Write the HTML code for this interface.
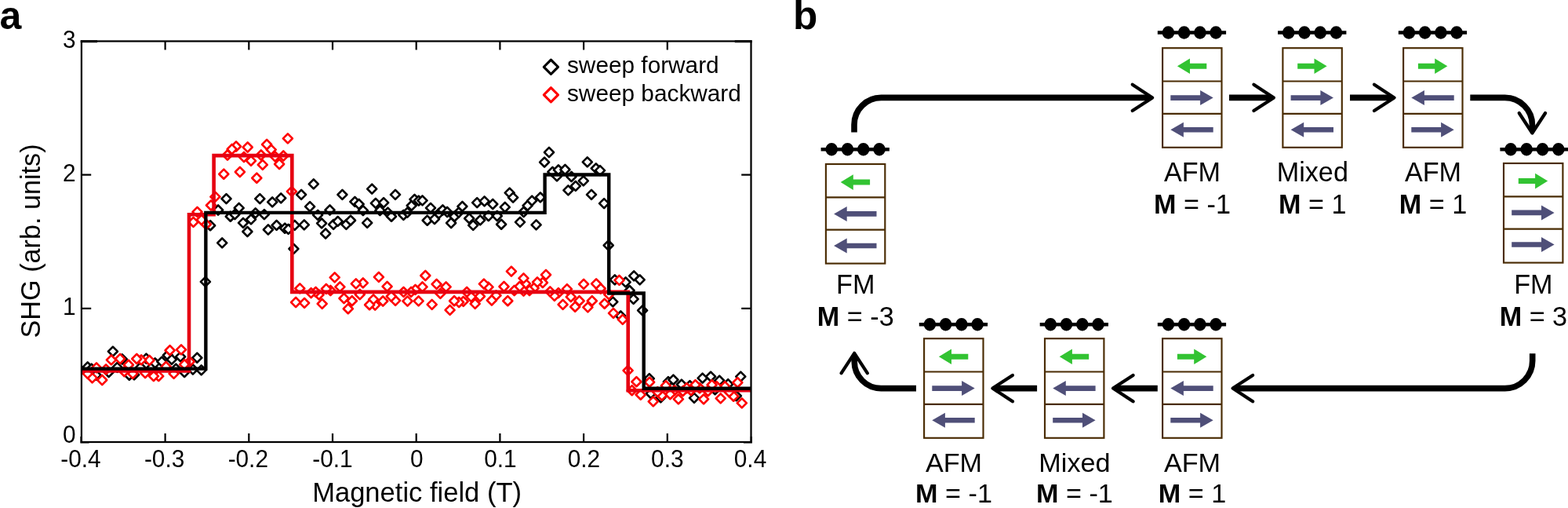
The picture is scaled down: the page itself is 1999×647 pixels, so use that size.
<!DOCTYPE html>
<html lang="en">
<head>
<meta charset="utf-8">
<title>SHG vs magnetic field</title>
<style>
html,body{margin:0;padding:0;background:#fff;}
body{width:1999px;height:647px;overflow:hidden;position:relative;}
svg{position:absolute;left:0;top:0;display:block;}
text{font-family:"Liberation Sans", sans-serif;fill:#000;font-kerning:none;}
</style>
</head>
<body>
<svg width="1999" height="647" viewBox="0 0 1999 647">
<rect x="0" y="0" width="1999" height="647" fill="#fff"/>

<g id="panel-a">
<text transform="translate(-0.50,36.90) scale(0.99,1.0)" text-anchor="start" style="font-size:50.5px;font-weight:bold;">a</text>
<g id="sweep-forward-points" fill="#fff" stroke="#000" stroke-width="2.6" stroke-linejoin="round">
<rect x="107.46" y="463.16" width="8.49" height="8.49" transform="rotate(45 111.7 467.4)"/>
<rect x="112.46" y="465.36" width="8.49" height="8.49" transform="rotate(45 116.7 469.6)"/>
<rect x="118.26" y="473.46" width="8.49" height="8.49" transform="rotate(45 122.5 477.7)"/>
<rect x="134.46" y="469.86" width="8.49" height="8.49" transform="rotate(45 138.7 474.1)"/>
<rect x="139.66" y="443.36" width="8.49" height="8.49" transform="rotate(45 143.9 447.6)"/>
<rect x="145.26" y="463.56" width="8.49" height="8.49" transform="rotate(45 149.5 467.8)"/>
<rect x="151.56" y="453.26" width="8.49" height="8.49" transform="rotate(45 155.8 457.5)"/>
<rect x="160.56" y="473.46" width="8.49" height="8.49" transform="rotate(45 164.8 477.7)"/>
<rect x="166.86" y="473.06" width="8.49" height="8.49" transform="rotate(45 171.1 477.3)"/>
<rect x="174.96" y="463.56" width="8.49" height="8.49" transform="rotate(45 179.2 467.8)"/>
<rect x="182.16" y="452.36" width="8.49" height="8.49" transform="rotate(45 186.4 456.6)"/>
<rect x="189.36" y="463.56" width="8.49" height="8.49" transform="rotate(45 193.6 467.8)"/>
<rect x="193.46" y="458.16" width="8.49" height="8.49" transform="rotate(45 197.7 462.4)"/>
<rect x="202.06" y="456.36" width="8.49" height="8.49" transform="rotate(45 206.3 460.6)"/>
<rect x="209.66" y="448.26" width="8.49" height="8.49" transform="rotate(45 213.9 452.5)"/>
<rect x="214.66" y="453.66" width="8.49" height="8.49" transform="rotate(45 218.9 457.9)"/>
<rect x="220.06" y="465.36" width="8.49" height="8.49" transform="rotate(45 224.3 469.6)"/>
<rect x="225.86" y="450.06" width="8.49" height="8.49" transform="rotate(45 230.1 454.3)"/>
<rect x="230.86" y="469.86" width="8.49" height="8.49" transform="rotate(45 235.1 474.1)"/>
<rect x="241.66" y="466.26" width="8.49" height="8.49" transform="rotate(45 245.9 470.5)"/>
<rect x="247.06" y="451.46" width="8.49" height="8.49" transform="rotate(45 251.3 455.7)"/>
<rect x="252.46" y="467.16" width="8.49" height="8.49" transform="rotate(45 256.7 471.4)"/>
<rect x="257.66" y="354.56" width="8.49" height="8.49" transform="rotate(45 261.9 358.8)"/>
<rect x="263.86" y="282.96" width="8.49" height="8.49" transform="rotate(45 268.1 287.2)"/>
<rect x="273.86" y="263.26" width="8.49" height="8.49" transform="rotate(45 278.1 267.5)"/>
<rect x="278.96" y="305.16" width="8.49" height="8.49" transform="rotate(45 283.2 309.4)"/>
<rect x="284.26" y="248.86" width="8.49" height="8.49" transform="rotate(45 288.5 253.1)"/>
<rect x="289.56" y="271.46" width="8.49" height="8.49" transform="rotate(45 293.8 275.7)"/>
<rect x="295.16" y="268.86" width="8.49" height="8.49" transform="rotate(45 299.4 273.1)"/>
<rect x="300.46" y="260.56" width="8.49" height="8.49" transform="rotate(45 304.7 264.8)"/>
<rect x="305.76" y="279.56" width="8.49" height="8.49" transform="rotate(45 310.0 283.8)"/>
<rect x="311.16" y="290.76" width="8.49" height="8.49" transform="rotate(45 315.4 295.0)"/>
<rect x="315.76" y="275.16" width="8.49" height="8.49" transform="rotate(45 320.0 279.4)"/>
<rect x="321.46" y="267.06" width="8.49" height="8.49" transform="rotate(45 325.7 271.3)"/>
<rect x="327.06" y="248.86" width="8.49" height="8.49" transform="rotate(45 331.3 253.1)"/>
<rect x="332.66" y="268.86" width="8.49" height="8.49" transform="rotate(45 336.9 273.1)"/>
<rect x="337.66" y="288.26" width="8.49" height="8.49" transform="rotate(45 341.9 292.5)"/>
<rect x="342.96" y="253.06" width="8.49" height="8.49" transform="rotate(45 347.2 257.3)"/>
<rect x="348.36" y="282.66" width="8.49" height="8.49" transform="rotate(45 352.6 286.9)"/>
<rect x="353.96" y="248.06" width="8.49" height="8.49" transform="rotate(45 358.2 252.3)"/>
<rect x="358.96" y="286.46" width="8.49" height="8.49" transform="rotate(45 363.2 290.7)"/>
<rect x="363.36" y="287.66" width="8.49" height="8.49" transform="rotate(45 367.6 291.9)"/>
<rect x="370.16" y="312.66" width="8.49" height="8.49" transform="rotate(45 374.4 316.9)"/>
<rect x="371.46" y="282.66" width="8.49" height="8.49" transform="rotate(45 375.7 286.9)"/>
<rect x="379.86" y="243.66" width="8.49" height="8.49" transform="rotate(45 384.1 247.9)"/>
<rect x="383.56" y="282.06" width="8.49" height="8.49" transform="rotate(45 387.8 286.3)"/>
<rect x="390.86" y="258.86" width="8.49" height="8.49" transform="rotate(45 395.1 263.1)"/>
<rect x="395.56" y="230.16" width="8.49" height="8.49" transform="rotate(45 399.8 234.4)"/>
<rect x="400.86" y="269.56" width="8.49" height="8.49" transform="rotate(45 405.1 273.8)"/>
<rect x="405.86" y="280.16" width="8.49" height="8.49" transform="rotate(45 410.1 284.4)"/>
<rect x="410.86" y="293.26" width="8.49" height="8.49" transform="rotate(45 415.1 297.5)"/>
<rect x="416.26" y="263.26" width="8.49" height="8.49" transform="rotate(45 420.5 267.5)"/>
<rect x="420.86" y="281.66" width="8.49" height="8.49" transform="rotate(45 425.1 285.9)"/>
<rect x="426.46" y="277.66" width="8.49" height="8.49" transform="rotate(45 430.7 281.9)"/>
<rect x="432.16" y="243.66" width="8.49" height="8.49" transform="rotate(45 436.4 247.9)"/>
<rect x="437.16" y="281.66" width="8.49" height="8.49" transform="rotate(45 441.4 285.9)"/>
<rect x="442.76" y="276.46" width="8.49" height="8.49" transform="rotate(45 447.0 280.7)"/>
<rect x="448.16" y="252.66" width="8.49" height="8.49" transform="rotate(45 452.4 256.9)"/>
<rect x="453.36" y="255.76" width="8.49" height="8.49" transform="rotate(45 457.6 260.0)"/>
<rect x="458.66" y="263.86" width="8.49" height="8.49" transform="rotate(45 462.9 268.1)"/>
<rect x="463.96" y="279.56" width="8.49" height="8.49" transform="rotate(45 468.2 283.8)"/>
<rect x="469.96" y="236.36" width="8.49" height="8.49" transform="rotate(45 474.2 240.6)"/>
<rect x="474.66" y="254.56" width="8.49" height="8.49" transform="rotate(45 478.9 258.8)"/>
<rect x="480.16" y="263.86" width="8.49" height="8.49" transform="rotate(45 484.4 268.1)"/>
<rect x="484.86" y="253.86" width="8.49" height="8.49" transform="rotate(45 489.1 258.1)"/>
<rect x="490.16" y="266.36" width="8.49" height="8.49" transform="rotate(45 494.4 270.6)"/>
<rect x="494.76" y="271.46" width="8.49" height="8.49" transform="rotate(45 499.0 275.7)"/>
<rect x="499.76" y="243.66" width="8.49" height="8.49" transform="rotate(45 504.0 247.9)"/>
<rect x="510.16" y="269.56" width="8.49" height="8.49" transform="rotate(45 514.4 273.8)"/>
<rect x="515.16" y="266.36" width="8.49" height="8.49" transform="rotate(45 519.4 270.6)"/>
<rect x="520.46" y="257.66" width="8.49" height="8.49" transform="rotate(45 524.7 261.9)"/>
<rect x="524.26" y="249.56" width="8.49" height="8.49" transform="rotate(45 528.5 253.8)"/>
<rect x="529.56" y="251.36" width="8.49" height="8.49" transform="rotate(45 533.8 255.6)"/>
<rect x="534.26" y="251.16" width="8.49" height="8.49" transform="rotate(45 538.5 255.4)"/>
<rect x="540.46" y="276.46" width="8.49" height="8.49" transform="rotate(45 544.7 280.7)"/>
<rect x="544.76" y="260.56" width="8.49" height="8.49" transform="rotate(45 549.0 264.8)"/>
<rect x="549.76" y="274.76" width="8.49" height="8.49" transform="rotate(45 554.0 279.0)"/>
<rect x="555.16" y="267.66" width="8.49" height="8.49" transform="rotate(45 559.4 271.9)"/>
<rect x="560.16" y="263.26" width="8.49" height="8.49" transform="rotate(45 564.4 267.5)"/>
<rect x="565.86" y="265.76" width="8.49" height="8.49" transform="rotate(45 570.1 270.0)"/>
<rect x="570.86" y="279.76" width="8.49" height="8.49" transform="rotate(45 575.1 284.0)"/>
<rect x="575.16" y="271.46" width="8.49" height="8.49" transform="rotate(45 579.4 275.7)"/>
<rect x="580.56" y="266.36" width="8.49" height="8.49" transform="rotate(45 584.8 270.6)"/>
<rect x="585.16" y="258.66" width="8.49" height="8.49" transform="rotate(45 589.4 262.9)"/>
<rect x="593.96" y="273.96" width="8.49" height="8.49" transform="rotate(45 598.2 278.2)"/>
<rect x="598.96" y="282.66" width="8.49" height="8.49" transform="rotate(45 603.2 286.9)"/>
<rect x="603.96" y="253.86" width="8.49" height="8.49" transform="rotate(45 608.2 258.1)"/>
<rect x="607.96" y="276.16" width="8.49" height="8.49" transform="rotate(45 612.2 280.4)"/>
<rect x="613.36" y="252.06" width="8.49" height="8.49" transform="rotate(45 617.6 256.3)"/>
<rect x="618.56" y="270.76" width="8.49" height="8.49" transform="rotate(45 622.8 275.0)"/>
<rect x="623.96" y="255.76" width="8.49" height="8.49" transform="rotate(45 628.2 260.0)"/>
<rect x="629.56" y="270.76" width="8.49" height="8.49" transform="rotate(45 633.8 275.0)"/>
<rect x="634.86" y="281.46" width="8.49" height="8.49" transform="rotate(45 639.1 285.7)"/>
<rect x="639.56" y="259.56" width="8.49" height="8.49" transform="rotate(45 643.8 263.8)"/>
<rect x="645.46" y="241.36" width="8.49" height="8.49" transform="rotate(45 649.7 245.6)"/>
<rect x="649.86" y="247.36" width="8.49" height="8.49" transform="rotate(45 654.1 251.6)"/>
<rect x="658.76" y="278.66" width="8.49" height="8.49" transform="rotate(45 663.0 282.9)"/>
<rect x="663.36" y="265.76" width="8.49" height="8.49" transform="rotate(45 667.6 270.0)"/>
<rect x="668.36" y="257.66" width="8.49" height="8.49" transform="rotate(45 672.6 261.9)"/>
<rect x="673.96" y="251.36" width="8.49" height="8.49" transform="rotate(45 678.2 255.6)"/>
<rect x="679.36" y="282.06" width="8.49" height="8.49" transform="rotate(45 683.6 286.3)"/>
<rect x="684.66" y="247.06" width="8.49" height="8.49" transform="rotate(45 688.9 251.3)"/>
<rect x="689.86" y="202.36" width="8.49" height="8.49" transform="rotate(45 694.1 206.6)"/>
<rect x="695.76" y="189.76" width="8.49" height="8.49" transform="rotate(45 700.0 194.0)"/>
<rect x="700.16" y="214.56" width="8.49" height="8.49" transform="rotate(45 704.4 218.8)"/>
<rect x="705.76" y="220.16" width="8.49" height="8.49" transform="rotate(45 710.0 224.4)"/>
<rect x="707.66" y="212.06" width="8.49" height="8.49" transform="rotate(45 711.9 216.3)"/>
<rect x="716.16" y="211.76" width="8.49" height="8.49" transform="rotate(45 720.4 216.0)"/>
<rect x="720.16" y="238.06" width="8.49" height="8.49" transform="rotate(45 724.4 242.3)"/>
<rect x="724.26" y="220.76" width="8.49" height="8.49" transform="rotate(45 728.5 225.0)"/>
<rect x="729.56" y="232.66" width="8.49" height="8.49" transform="rotate(45 733.8 236.9)"/>
<rect x="739.56" y="226.06" width="8.49" height="8.49" transform="rotate(45 743.8 230.3)"/>
<rect x="744.56" y="202.06" width="8.49" height="8.49" transform="rotate(45 748.8 206.3)"/>
<rect x="749.76" y="243.56" width="8.49" height="8.49" transform="rotate(45 754.0 247.8)"/>
<rect x="755.56" y="210.16" width="8.49" height="8.49" transform="rotate(45 759.8 214.4)"/>
<rect x="760.76" y="212.86" width="8.49" height="8.49" transform="rotate(45 765.0 217.1)"/>
<rect x="765.86" y="254.86" width="8.49" height="8.49" transform="rotate(45 770.1 259.1)"/>
<rect x="771.46" y="308.26" width="8.49" height="8.49" transform="rotate(45 775.7 312.5)"/>
<rect x="777.06" y="380.16" width="8.49" height="8.49" transform="rotate(45 781.3 384.4)"/>
<rect x="779.56" y="352.06" width="8.49" height="8.49" transform="rotate(45 783.8 356.3)"/>
<rect x="787.06" y="398.26" width="8.49" height="8.49" transform="rotate(45 791.3 402.5)"/>
<rect x="793.36" y="355.16" width="8.49" height="8.49" transform="rotate(45 797.6 359.4)"/>
<rect x="798.36" y="365.76" width="8.49" height="8.49" transform="rotate(45 802.6 370.0)"/>
<rect x="803.36" y="376.66" width="8.49" height="8.49" transform="rotate(45 807.6 380.9)"/>
<rect x="803.96" y="347.06" width="8.49" height="8.49" transform="rotate(45 808.2 351.3)"/>
<rect x="811.46" y="352.06" width="8.49" height="8.49" transform="rotate(45 815.7 356.3)"/>
<rect x="814.86" y="391.06" width="8.49" height="8.49" transform="rotate(45 819.1 395.3)"/>
<rect x="823.56" y="477.86" width="8.49" height="8.49" transform="rotate(45 827.8 482.1)"/>
<rect x="825.56" y="496.96" width="8.49" height="8.49" transform="rotate(45 829.8 501.2)"/>
<rect x="838.06" y="502.06" width="8.49" height="8.49" transform="rotate(45 842.3 506.3)"/>
<rect x="847.66" y="481.96" width="8.49" height="8.49" transform="rotate(45 851.9 486.2)"/>
<rect x="854.16" y="479.46" width="8.49" height="8.49" transform="rotate(45 858.4 483.7)"/>
<rect x="864.66" y="485.46" width="8.49" height="8.49" transform="rotate(45 868.9 489.7)"/>
<rect x="875.26" y="486.96" width="8.49" height="8.49" transform="rotate(45 879.5 491.2)"/>
<rect x="880.76" y="502.56" width="8.49" height="8.49" transform="rotate(45 885.0 506.8)"/>
<rect x="891.36" y="477.36" width="8.49" height="8.49" transform="rotate(45 895.6 481.6)"/>
<rect x="901.86" y="475.36" width="8.49" height="8.49" transform="rotate(45 906.1 479.6)"/>
<rect x="907.36" y="491.96" width="8.49" height="8.49" transform="rotate(45 911.6 496.2)"/>
<rect x="912.96" y="480.46" width="8.49" height="8.49" transform="rotate(45 917.2 484.7)"/>
<rect x="923.96" y="484.96" width="8.49" height="8.49" transform="rotate(45 928.2 489.2)"/>
<rect x="934.56" y="499.96" width="8.49" height="8.49" transform="rotate(45 938.8 504.2)"/>
<rect x="940.06" y="475.36" width="8.49" height="8.49" transform="rotate(45 944.3 479.6)"/>
</g>
<g id="sweep-backward-points" fill="#fff" stroke="#ff0000" stroke-width="2.6" stroke-linejoin="round">
<rect x="941.56" y="509.06" width="8.49" height="8.49" transform="rotate(45 945.8 513.3)"/>
<rect x="936.06" y="482.96" width="8.49" height="8.49" transform="rotate(45 940.3 487.2)"/>
<rect x="930.96" y="500.46" width="8.49" height="8.49" transform="rotate(45 935.2 504.7)"/>
<rect x="925.46" y="494.96" width="8.49" height="8.49" transform="rotate(45 929.7 499.2)"/>
<rect x="919.96" y="487.96" width="8.49" height="8.49" transform="rotate(45 924.2 492.2)"/>
<rect x="914.46" y="503.06" width="8.49" height="8.49" transform="rotate(45 918.7 507.3)"/>
<rect x="909.36" y="487.96" width="8.49" height="8.49" transform="rotate(45 913.6 492.2)"/>
<rect x="903.36" y="485.96" width="8.49" height="8.49" transform="rotate(45 907.6 490.2)"/>
<rect x="898.36" y="493.96" width="8.49" height="8.49" transform="rotate(45 902.6 498.2)"/>
<rect x="892.86" y="504.06" width="8.49" height="8.49" transform="rotate(45 897.1 508.3)"/>
<rect x="887.76" y="489.96" width="8.49" height="8.49" transform="rotate(45 892.0 494.2)"/>
<rect x="882.26" y="485.96" width="8.49" height="8.49" transform="rotate(45 886.5 490.2)"/>
<rect x="876.76" y="492.96" width="8.49" height="8.49" transform="rotate(45 881.0 497.2)"/>
<rect x="871.26" y="489.96" width="8.49" height="8.49" transform="rotate(45 875.5 494.2)"/>
<rect x="866.26" y="493.96" width="8.49" height="8.49" transform="rotate(45 870.5 498.2)"/>
<rect x="860.66" y="504.06" width="8.49" height="8.49" transform="rotate(45 864.9 508.3)"/>
<rect x="855.66" y="492.96" width="8.49" height="8.49" transform="rotate(45 859.9 497.2)"/>
<rect x="850.16" y="497.96" width="8.49" height="8.49" transform="rotate(45 854.4 502.2)"/>
<rect x="844.66" y="486.96" width="8.49" height="8.49" transform="rotate(45 848.9 491.2)"/>
<rect x="839.56" y="499.46" width="8.49" height="8.49" transform="rotate(45 843.8 503.7)"/>
<rect x="834.06" y="494.96" width="8.49" height="8.49" transform="rotate(45 838.3 499.2)"/>
<rect x="828.56" y="507.06" width="8.49" height="8.49" transform="rotate(45 832.8 511.3)"/>
<rect x="823.86" y="482.46" width="8.49" height="8.49" transform="rotate(45 828.1 486.7)"/>
<rect x="812.46" y="498.46" width="8.49" height="8.49" transform="rotate(45 816.7 502.7)"/>
<rect x="807.16" y="481.96" width="8.49" height="8.49" transform="rotate(45 811.4 486.2)"/>
<rect x="801.46" y="492.96" width="8.49" height="8.49" transform="rotate(45 805.7 497.2)"/>
<rect x="796.36" y="467.66" width="8.49" height="8.49" transform="rotate(45 800.6 471.9)"/>
<rect x="789.56" y="402.66" width="8.49" height="8.49" transform="rotate(45 793.8 406.9)"/>
<rect x="785.26" y="352.66" width="8.49" height="8.49" transform="rotate(45 789.5 356.9)"/>
<rect x="777.76" y="394.56" width="8.49" height="8.49" transform="rotate(45 782.0 398.8)"/>
<rect x="772.06" y="370.76" width="8.49" height="8.49" transform="rotate(45 776.3 375.0)"/>
<rect x="766.46" y="382.46" width="8.49" height="8.49" transform="rotate(45 770.7 386.7)"/>
<rect x="761.46" y="363.26" width="8.49" height="8.49" transform="rotate(45 765.7 367.5)"/>
<rect x="755.86" y="357.06" width="8.49" height="8.49" transform="rotate(45 760.1 361.3)"/>
<rect x="750.56" y="378.96" width="8.49" height="8.49" transform="rotate(45 754.8 383.2)"/>
<rect x="745.16" y="387.06" width="8.49" height="8.49" transform="rotate(45 749.4 391.3)"/>
<rect x="739.86" y="357.66" width="8.49" height="8.49" transform="rotate(45 744.1 361.9)"/>
<rect x="734.36" y="378.96" width="8.49" height="8.49" transform="rotate(45 738.6 383.2)"/>
<rect x="728.96" y="386.46" width="8.49" height="8.49" transform="rotate(45 733.2 390.7)"/>
<rect x="723.56" y="373.86" width="8.49" height="8.49" transform="rotate(45 727.8 378.1)"/>
<rect x="718.66" y="363.86" width="8.49" height="8.49" transform="rotate(45 722.9 368.1)"/>
<rect x="713.36" y="383.56" width="8.49" height="8.49" transform="rotate(45 717.6 387.8)"/>
<rect x="707.66" y="368.86" width="8.49" height="8.49" transform="rotate(45 711.9 373.1)"/>
<rect x="702.66" y="372.66" width="8.49" height="8.49" transform="rotate(45 706.9 376.9)"/>
<rect x="697.06" y="367.06" width="8.49" height="8.49" transform="rotate(45 701.3 371.3)"/>
<rect x="691.76" y="345.76" width="8.49" height="8.49" transform="rotate(45 696.0 350.0)"/>
<rect x="687.66" y="355.76" width="8.49" height="8.49" transform="rotate(45 691.9 360.0)"/>
<rect x="680.76" y="355.16" width="8.49" height="8.49" transform="rotate(45 685.0 359.4)"/>
<rect x="676.46" y="362.66" width="8.49" height="8.49" transform="rotate(45 680.7 366.9)"/>
<rect x="670.76" y="365.76" width="8.49" height="8.49" transform="rotate(45 675.0 370.0)"/>
<rect x="665.76" y="357.06" width="8.49" height="8.49" transform="rotate(45 670.0 361.3)"/>
<rect x="663.26" y="366.36" width="8.49" height="8.49" transform="rotate(45 667.5 370.6)"/>
<rect x="663.26" y="350.16" width="8.49" height="8.49" transform="rotate(45 667.5 354.4)"/>
<rect x="658.26" y="360.76" width="8.49" height="8.49" transform="rotate(45 662.5 365.0)"/>
<rect x="651.46" y="365.76" width="8.49" height="8.49" transform="rotate(45 655.7 370.0)"/>
<rect x="647.66" y="341.36" width="8.49" height="8.49" transform="rotate(45 651.9 345.6)"/>
<rect x="643.06" y="378.96" width="8.49" height="8.49" transform="rotate(45 647.3 383.2)"/>
<rect x="638.26" y="360.76" width="8.49" height="8.49" transform="rotate(45 642.5 365.0)"/>
<rect x="628.26" y="372.06" width="8.49" height="8.49" transform="rotate(45 632.5 376.3)"/>
<rect x="622.66" y="378.26" width="8.49" height="8.49" transform="rotate(45 626.9 382.5)"/>
<rect x="618.26" y="361.36" width="8.49" height="8.49" transform="rotate(45 622.5 365.6)"/>
<rect x="612.66" y="357.36" width="8.49" height="8.49" transform="rotate(45 616.9 361.6)"/>
<rect x="607.66" y="373.26" width="8.49" height="8.49" transform="rotate(45 611.9 377.5)"/>
<rect x="601.46" y="382.66" width="8.49" height="8.49" transform="rotate(45 605.7 386.9)"/>
<rect x="596.46" y="373.86" width="8.49" height="8.49" transform="rotate(45 600.7 378.1)"/>
<rect x="590.86" y="367.66" width="8.49" height="8.49" transform="rotate(45 595.1 371.9)"/>
<rect x="586.46" y="379.56" width="8.49" height="8.49" transform="rotate(45 590.7 383.8)"/>
<rect x="580.86" y="380.76" width="8.49" height="8.49" transform="rotate(45 585.1 385.0)"/>
<rect x="574.86" y="378.96" width="8.49" height="8.49" transform="rotate(45 579.1 383.2)"/>
<rect x="569.36" y="390.56" width="8.49" height="8.49" transform="rotate(45 573.6 394.8)"/>
<rect x="564.36" y="361.16" width="8.49" height="8.49" transform="rotate(45 568.6 365.4)"/>
<rect x="557.16" y="369.56" width="8.49" height="8.49" transform="rotate(45 561.4 373.8)"/>
<rect x="552.36" y="357.66" width="8.49" height="8.49" transform="rotate(45 556.6 361.9)"/>
<rect x="546.46" y="383.56" width="8.49" height="8.49" transform="rotate(45 550.7 387.8)"/>
<rect x="538.06" y="346.76" width="8.49" height="8.49" transform="rotate(45 542.3 351.0)"/>
<rect x="534.26" y="361.16" width="8.49" height="8.49" transform="rotate(45 538.5 365.4)"/>
<rect x="529.36" y="379.16" width="8.49" height="8.49" transform="rotate(45 533.6 383.4)"/>
<rect x="525.26" y="364.56" width="8.49" height="8.49" transform="rotate(45 529.5 368.8)"/>
<rect x="519.86" y="367.66" width="8.49" height="8.49" transform="rotate(45 524.1 371.9)"/>
<rect x="515.26" y="379.26" width="8.49" height="8.49" transform="rotate(45 519.5 383.5)"/>
<rect x="510.26" y="367.66" width="8.49" height="8.49" transform="rotate(45 514.5 371.9)"/>
<rect x="499.86" y="378.66" width="8.49" height="8.49" transform="rotate(45 504.1 382.9)"/>
<rect x="494.56" y="373.26" width="8.49" height="8.49" transform="rotate(45 498.8 377.5)"/>
<rect x="489.36" y="360.56" width="8.49" height="8.49" transform="rotate(45 493.6 364.8)"/>
<rect x="483.96" y="379.26" width="8.49" height="8.49" transform="rotate(45 488.2 383.5)"/>
<rect x="478.66" y="348.66" width="8.49" height="8.49" transform="rotate(45 482.9 352.9)"/>
<rect x="473.96" y="384.26" width="8.49" height="8.49" transform="rotate(45 478.2 388.5)"/>
<rect x="471.86" y="377.06" width="8.49" height="8.49" transform="rotate(45 476.1 381.3)"/>
<rect x="466.86" y="383.96" width="8.49" height="8.49" transform="rotate(45 471.1 388.2)"/>
<rect x="458.56" y="356.16" width="8.49" height="8.49" transform="rotate(45 462.8 360.4)"/>
<rect x="454.56" y="370.76" width="8.49" height="8.49" transform="rotate(45 458.8 375.0)"/>
<rect x="449.56" y="357.06" width="8.49" height="8.49" transform="rotate(45 453.8 361.3)"/>
<rect x="444.56" y="378.96" width="8.49" height="8.49" transform="rotate(45 448.8 383.2)"/>
<rect x="439.56" y="388.96" width="8.49" height="8.49" transform="rotate(45 443.8 393.2)"/>
<rect x="434.26" y="375.76" width="8.49" height="8.49" transform="rotate(45 438.5 380.0)"/>
<rect x="429.16" y="361.16" width="8.49" height="8.49" transform="rotate(45 433.4 365.4)"/>
<rect x="422.46" y="349.16" width="8.49" height="8.49" transform="rotate(45 426.7 353.4)"/>
<rect x="417.06" y="365.76" width="8.49" height="8.49" transform="rotate(45 421.3 370.0)"/>
<rect x="411.66" y="363.66" width="8.49" height="8.49" transform="rotate(45 415.9 367.9)"/>
<rect x="406.46" y="382.66" width="8.49" height="8.49" transform="rotate(45 410.7 386.9)"/>
<rect x="402.36" y="371.06" width="8.49" height="8.49" transform="rotate(45 406.6 375.3)"/>
<rect x="398.26" y="367.66" width="8.49" height="8.49" transform="rotate(45 402.5 371.9)"/>
<rect x="392.36" y="368.86" width="8.49" height="8.49" transform="rotate(45 396.6 373.1)"/>
<rect x="383.86" y="381.66" width="8.49" height="8.49" transform="rotate(45 388.1 385.9)"/>
<rect x="378.06" y="363.06" width="8.49" height="8.49" transform="rotate(45 382.3 367.3)"/>
<rect x="372.86" y="380.76" width="8.49" height="8.49" transform="rotate(45 377.1 385.0)"/>
<rect x="367.66" y="239.56" width="8.49" height="8.49" transform="rotate(45 371.9 243.8)"/>
<rect x="362.66" y="172.06" width="8.49" height="8.49" transform="rotate(45 366.9 176.3)"/>
<rect x="357.06" y="194.26" width="8.49" height="8.49" transform="rotate(45 361.3 198.5)"/>
<rect x="351.86" y="204.76" width="8.49" height="8.49" transform="rotate(45 356.1 209.0)"/>
<rect x="346.46" y="195.16" width="8.49" height="8.49" transform="rotate(45 350.7 199.4)"/>
<rect x="341.46" y="186.36" width="8.49" height="8.49" transform="rotate(45 345.7 190.6)"/>
<rect x="335.86" y="179.76" width="8.49" height="8.49" transform="rotate(45 340.1 184.0)"/>
<rect x="330.56" y="205.56" width="8.49" height="8.49" transform="rotate(45 334.8 209.8)"/>
<rect x="328.56" y="193.26" width="8.49" height="8.49" transform="rotate(45 332.8 197.5)"/>
<rect x="323.06" y="222.46" width="8.49" height="8.49" transform="rotate(45 327.3 226.7)"/>
<rect x="315.76" y="200.56" width="8.49" height="8.49" transform="rotate(45 320.0 204.8)"/>
<rect x="311.46" y="183.26" width="8.49" height="8.49" transform="rotate(45 315.7 187.5)"/>
<rect x="306.76" y="195.76" width="8.49" height="8.49" transform="rotate(45 311.0 200.0)"/>
<rect x="301.66" y="214.76" width="8.49" height="8.49" transform="rotate(45 305.9 219.0)"/>
<rect x="296.76" y="182.26" width="8.49" height="8.49" transform="rotate(45 301.0 186.5)"/>
<rect x="291.46" y="185.76" width="8.49" height="8.49" transform="rotate(45 295.7 190.0)"/>
<rect x="285.76" y="193.26" width="8.49" height="8.49" transform="rotate(45 290.0 197.5)"/>
<rect x="281.06" y="217.46" width="8.49" height="8.49" transform="rotate(45 285.3 221.7)"/>
<rect x="270.16" y="246.36" width="8.49" height="8.49" transform="rotate(45 274.4 250.6)"/>
<rect x="264.76" y="257.26" width="8.49" height="8.49" transform="rotate(45 269.0 261.5)"/>
<rect x="258.56" y="281.46" width="8.49" height="8.49" transform="rotate(45 262.8 285.7)"/>
<rect x="252.66" y="275.76" width="8.49" height="8.49" transform="rotate(45 256.9 280.0)"/>
<rect x="247.26" y="265.56" width="8.49" height="8.49" transform="rotate(45 251.5 269.8)"/>
<rect x="242.26" y="278.56" width="8.49" height="8.49" transform="rotate(45 246.5 282.8)"/>
<rect x="237.56" y="456.36" width="8.49" height="8.49" transform="rotate(45 241.8 460.6)"/>
<rect x="230.86" y="459.96" width="8.49" height="8.49" transform="rotate(45 235.1 464.2)"/>
<rect x="226.76" y="441.06" width="8.49" height="8.49" transform="rotate(45 231.0 445.3)"/>
<rect x="217.36" y="471.66" width="8.49" height="8.49" transform="rotate(45 221.6 475.9)"/>
<rect x="212.36" y="441.96" width="8.49" height="8.49" transform="rotate(45 216.6 446.2)"/>
<rect x="207.46" y="462.66" width="8.49" height="8.49" transform="rotate(45 211.7 466.9)"/>
<rect x="197.96" y="474.86" width="8.49" height="8.49" transform="rotate(45 202.2 479.1)"/>
<rect x="191.66" y="474.86" width="8.49" height="8.49" transform="rotate(45 195.9 479.1)"/>
<rect x="186.26" y="454.56" width="8.49" height="8.49" transform="rotate(45 190.5 458.8)"/>
<rect x="180.86" y="470.76" width="8.49" height="8.49" transform="rotate(45 185.1 475.0)"/>
<rect x="175.86" y="454.16" width="8.49" height="8.49" transform="rotate(45 180.1 458.4)"/>
<rect x="170.06" y="452.76" width="8.49" height="8.49" transform="rotate(45 174.3 457.0)"/>
<rect x="165.06" y="471.66" width="8.49" height="8.49" transform="rotate(45 169.3 475.9)"/>
<rect x="159.66" y="460.46" width="8.49" height="8.49" transform="rotate(45 163.9 464.7)"/>
<rect x="154.26" y="468.96" width="8.49" height="8.49" transform="rotate(45 158.5 473.2)"/>
<rect x="148.86" y="452.76" width="8.49" height="8.49" transform="rotate(45 153.1 457.0)"/>
<rect x="137.66" y="454.16" width="8.49" height="8.49" transform="rotate(45 141.9 458.4)"/>
<rect x="130.86" y="466.26" width="8.49" height="8.49" transform="rotate(45 135.1 470.5)"/>
<rect x="125.96" y="479.76" width="8.49" height="8.49" transform="rotate(45 130.2 484.0)"/>
<rect x="118.76" y="464.06" width="8.49" height="8.49" transform="rotate(45 123.0 468.3)"/>
<rect x="113.36" y="477.06" width="8.49" height="8.49" transform="rotate(45 117.6 481.3)"/>
<rect x="107.46" y="471.66" width="8.49" height="8.49" transform="rotate(45 111.7 475.9)"/>
</g>
<polyline points="103.9,472.5 241.0,472.5 241.0,273.3 272.6,273.3 272.6,198.1 372.3,198.1 372.3,371.9 800.7,371.9 800.7,497.2 957.5,497.2" fill="none" stroke="#e60012" stroke-width="4.6" stroke-linejoin="miter"/>
<polyline points="103.9,469.6 262.35,469.6 262.35,270.9 694.6,270.9 694.6,222.5 776.25,222.5 776.25,373.5 820.7,373.5 820.7,494.7 957.5,494.7" fill="none" stroke="#000" stroke-width="4.4" stroke-linejoin="miter"/>
<rect x="103.9" y="52.5" width="853.6" height="510.5" fill="none" stroke="#000" stroke-width="2.25"/>
<path d="M210.6 562.95v-11M210.6 52.5v11M317.3 562.95v-11M317.3 52.5v11M424.0 562.95v-11M424.0 52.5v11M530.7 562.95v-11M530.7 52.5v11M637.4 562.95v-11M637.4 52.5v11M744.1 562.95v-11M744.1 52.5v11M850.8 562.95v-11M850.8 52.5v11M103.9 392.8h12.3M957.5 392.8h-12.3M103.9 222.7h12.3M957.5 222.7h-12.3" fill="none" stroke="#000" stroke-width="2.2"/>
<path d="M102.7 52.7H124M958.7 52.7H936.8" fill="none" stroke="#000" stroke-width="3.1"/>
<path d="M102.40 563.40H113.5M958.90 563.45H948M957.75 564.45V556M103.50 564.45V556" fill="none" stroke="#000" stroke-width="2.25"/>
<text transform="translate(102.90,594.90) scale(1.0,1.041)" text-anchor="middle" style="font-size:29.8px;">-0.4</text>
<text transform="translate(209.60,594.90) scale(1.0,1.041)" text-anchor="middle" style="font-size:29.8px;">-0.3</text>
<text transform="translate(316.30,594.90) scale(1.0,1.041)" text-anchor="middle" style="font-size:29.8px;">-0.2</text>
<text transform="translate(424.00,594.90) scale(1.0,1.041)" text-anchor="middle" style="font-size:29.8px;">-0.1</text>
<text transform="translate(531.20,594.90) scale(1.0,1.041)" text-anchor="middle" style="font-size:29.8px;">0</text>
<text transform="translate(637.90,594.90) scale(1.0,1.041)" text-anchor="middle" style="font-size:29.8px;">0.1</text>
<text transform="translate(744.40,594.90) scale(1.0,1.041)" text-anchor="middle" style="font-size:29.8px;">0.2</text>
<text transform="translate(850.80,594.90) scale(1.0,1.041)" text-anchor="middle" style="font-size:29.8px;">0.3</text>
<text transform="translate(956.50,594.90) scale(1.0,1.041)" text-anchor="middle" style="font-size:29.8px;">0.4</text>
<text transform="translate(96.60,564.15) scale(1.0,1.041)" text-anchor="end" style="font-size:29.8px;">0</text>
<text transform="translate(96.60,401.20) scale(1.0,1.041)" text-anchor="end" style="font-size:29.8px;">1</text>
<text transform="translate(96.60,231.05) scale(1.0,1.041)" text-anchor="end" style="font-size:29.8px;">2</text>
<text transform="translate(96.60,60.90) scale(1.0,1.041)" text-anchor="end" style="font-size:29.8px;">3</text>
<text transform="translate(398.17,639.10) scale(1.0,1.03)" text-anchor="start" style="font-size:34.55px;">Magnetic field (T)</text>
<text transform="translate(51.00,430.44) rotate(-90) scale(1.0,1.03)" text-anchor="start" style="font-size:34.2px;">SHG (arb. units)</text>
<rect x="695.97" y="78.87" width="12.87" height="12.87" transform="rotate(45 702.4 85.3)" fill="#fff" stroke="#000" stroke-width="3.1" stroke-linejoin="round"/>
<rect x="695.97" y="114.37" width="12.87" height="12.87" transform="rotate(45 702.4 120.8)" fill="#fff" stroke="#ff0000" stroke-width="3.1" stroke-linejoin="round"/>
<text transform="translate(722.98,92.90) scale(1.0,0.985)" text-anchor="start" style="font-size:29.8px;">sweep forward</text>
<text transform="translate(722.98,128.90) scale(1.0,0.985)" text-anchor="start" style="font-size:29.8px;">sweep backward</text>
</g>
<g id="panel-b">
<text transform="translate(1010.88,36.80) scale(1.0,1.0)" text-anchor="start" style="font-size:51.2px;font-weight:bold;">b</text>
<line x1="1046.6" y1="190.2" x2="1133.9" y2="190.2" stroke="#000" stroke-width="4.5"/>
<ellipse cx="1060.2" cy="190.2" rx="7.8" ry="8.2" fill="#000"/>
<ellipse cx="1080.5" cy="190.2" rx="7.8" ry="8.2" fill="#000"/>
<ellipse cx="1100.7" cy="190.2" rx="7.8" ry="8.2" fill="#000"/>
<ellipse cx="1121.0" cy="190.2" rx="7.8" ry="8.2" fill="#000"/>
<rect x="1052.9" y="209.0" width="75.4" height="126.6" fill="#fff" stroke="#4a2c04" stroke-width="2.15"/>
<path d="M1052.9 251.3H1128.3M1052.9 292.6H1128.3" stroke="#4a2c04" stroke-width="2.15" fill="none"/>
<polygon points="1109.1,228.6 1087.8,228.6 1087.8,222.3 1071.7,232.1 1087.8,241.9 1087.8,235.6 1109.1,235.6" fill="#32c332"/>
<polygon points="1117.5,269.1 1079.7,269.1 1079.7,262.9 1063.1,272.4 1079.7,281.9 1079.7,275.7 1117.5,275.7" fill="#4f4f78"/>
<polygon points="1117.5,309.7 1079.7,309.7 1079.7,303.5 1063.1,313.0 1079.7,322.5 1079.7,316.3 1117.5,316.3" fill="#4f4f78"/>
<text transform="translate(1090.80,373.80) scale(1.0,1.045)" text-anchor="middle" style="font-size:34.2px;">FM</text>
<text transform="translate(1090.80,414.90) scale(1.0,1.045)" text-anchor="middle" style="font-size:34.2px;"><tspan style="font-weight:bold">M</tspan> = -3</text>
<line x1="1475.8" y1="41.5" x2="1563.1" y2="41.5" stroke="#000" stroke-width="4.5"/>
<ellipse cx="1489.4" cy="41.5" rx="7.8" ry="8.2" fill="#000"/>
<ellipse cx="1509.6" cy="41.5" rx="7.8" ry="8.2" fill="#000"/>
<ellipse cx="1529.9" cy="41.5" rx="7.8" ry="8.2" fill="#000"/>
<ellipse cx="1550.1" cy="41.5" rx="7.8" ry="8.2" fill="#000"/>
<rect x="1482.1" y="61.2" width="75.4" height="126.6" fill="#fff" stroke="#4a2c04" stroke-width="2.15"/>
<path d="M1482.1 103.5H1557.5M1482.1 144.8H1557.5" stroke="#4a2c04" stroke-width="2.15" fill="none"/>
<polygon points="1538.3,80.8 1517.0,80.8 1517.0,74.5 1500.9,84.3 1517.0,94.1 1517.0,87.8 1538.3,87.8" fill="#32c332"/>
<polygon points="1492.3,121.3 1530.1,121.3 1530.1,115.1 1546.7,124.6 1530.1,134.1 1530.1,127.9 1492.3,127.9" fill="#4f4f78"/>
<polygon points="1546.7,161.9 1508.9,161.9 1508.9,155.7 1492.3,165.2 1508.9,174.7 1508.9,168.5 1546.7,168.5" fill="#4f4f78"/>
<text transform="translate(1520.00,230.70) scale(1.0,1.045)" text-anchor="middle" style="font-size:34.2px;">AFM</text>
<text transform="translate(1520.00,271.80) scale(1.0,1.045)" text-anchor="middle" style="font-size:34.2px;"><tspan style="font-weight:bold">M</tspan> = -1</text>
<line x1="1629.1" y1="41.5" x2="1716.4" y2="41.5" stroke="#000" stroke-width="4.5"/>
<ellipse cx="1642.7" cy="41.5" rx="7.8" ry="8.2" fill="#000"/>
<ellipse cx="1663.0" cy="41.5" rx="7.8" ry="8.2" fill="#000"/>
<ellipse cx="1683.2" cy="41.5" rx="7.8" ry="8.2" fill="#000"/>
<ellipse cx="1703.5" cy="41.5" rx="7.8" ry="8.2" fill="#000"/>
<rect x="1635.4" y="61.2" width="75.4" height="126.6" fill="#fff" stroke="#4a2c04" stroke-width="2.15"/>
<path d="M1635.4 103.5H1710.8M1635.4 144.8H1710.8" stroke="#4a2c04" stroke-width="2.15" fill="none"/>
<polygon points="1654.2,80.8 1675.5,80.8 1675.5,74.5 1691.6,84.3 1675.5,94.1 1675.5,87.8 1654.2,87.8" fill="#32c332"/>
<polygon points="1645.6,121.3 1683.4,121.3 1683.4,115.1 1700.0,124.6 1683.4,134.1 1683.4,127.9 1645.6,127.9" fill="#4f4f78"/>
<polygon points="1700.0,161.9 1662.2,161.9 1662.2,155.7 1645.6,165.2 1662.2,174.7 1662.2,168.5 1700.0,168.5" fill="#4f4f78"/>
<text transform="translate(1673.30,230.70) scale(1.0,1.045)" text-anchor="middle" style="font-size:34.2px;">Mixed</text>
<text transform="translate(1673.30,271.80) scale(1.0,1.045)" text-anchor="middle" style="font-size:34.2px;"><tspan style="font-weight:bold">M</tspan> = 1</text>
<line x1="1782.8" y1="41.5" x2="1870.1" y2="41.5" stroke="#000" stroke-width="4.5"/>
<ellipse cx="1796.4" cy="41.5" rx="7.8" ry="8.2" fill="#000"/>
<ellipse cx="1816.6" cy="41.5" rx="7.8" ry="8.2" fill="#000"/>
<ellipse cx="1836.9" cy="41.5" rx="7.8" ry="8.2" fill="#000"/>
<ellipse cx="1857.1" cy="41.5" rx="7.8" ry="8.2" fill="#000"/>
<rect x="1789.1" y="61.2" width="75.4" height="126.6" fill="#fff" stroke="#4a2c04" stroke-width="2.15"/>
<path d="M1789.1 103.5H1864.5M1789.1 144.8H1864.5" stroke="#4a2c04" stroke-width="2.15" fill="none"/>
<polygon points="1807.9,80.8 1829.2,80.8 1829.2,74.5 1845.3,84.3 1829.2,94.1 1829.2,87.8 1807.9,87.8" fill="#32c332"/>
<polygon points="1853.7,121.3 1815.9,121.3 1815.9,115.1 1799.3,124.6 1815.9,134.1 1815.9,127.9 1853.7,127.9" fill="#4f4f78"/>
<polygon points="1799.3,161.9 1837.1,161.9 1837.1,155.7 1853.7,165.2 1837.1,174.7 1837.1,168.5 1799.3,168.5" fill="#4f4f78"/>
<text transform="translate(1827.00,230.70) scale(1.0,1.045)" text-anchor="middle" style="font-size:34.2px;">AFM</text>
<text transform="translate(1827.00,271.80) scale(1.0,1.045)" text-anchor="middle" style="font-size:34.2px;"><tspan style="font-weight:bold">M</tspan> = 1</text>
<line x1="1912.4" y1="190.2" x2="1999.7" y2="190.2" stroke="#000" stroke-width="4.5"/>
<ellipse cx="1926.0" cy="190.2" rx="7.8" ry="8.2" fill="#000"/>
<ellipse cx="1946.2" cy="190.2" rx="7.8" ry="8.2" fill="#000"/>
<ellipse cx="1966.5" cy="190.2" rx="7.8" ry="8.2" fill="#000"/>
<ellipse cx="1986.8" cy="190.2" rx="7.8" ry="8.2" fill="#000"/>
<rect x="1917.0" y="208.0" width="75.4" height="126.6" fill="#fff" stroke="#4a2c04" stroke-width="2.15"/>
<path d="M1917.0 250.3H1992.4M1917.0 291.6H1992.4" stroke="#4a2c04" stroke-width="2.15" fill="none"/>
<polygon points="1935.8,227.1 1957.1,227.1 1957.1,220.8 1973.2,230.6 1957.1,240.4 1957.1,234.1 1935.8,234.1" fill="#32c332"/>
<polygon points="1927.2,267.6 1965.0,267.6 1965.0,261.4 1981.6,270.9 1965.0,280.4 1965.0,274.2 1927.2,274.2" fill="#4f4f78"/>
<polygon points="1927.2,308.2 1965.0,308.2 1965.0,302.0 1981.6,311.5 1965.0,321.0 1965.0,314.8 1927.2,314.8" fill="#4f4f78"/>
<text transform="translate(1954.90,373.60) scale(1.0,1.045)" text-anchor="middle" style="font-size:34.2px;">FM</text>
<text transform="translate(1954.90,414.90) scale(1.0,1.045)" text-anchor="middle" style="font-size:34.2px;"><tspan style="font-weight:bold">M</tspan> = 3</text>
<line x1="1171.8" y1="413.3" x2="1259.1" y2="413.3" stroke="#000" stroke-width="4.5"/>
<ellipse cx="1185.4" cy="413.3" rx="7.8" ry="8.2" fill="#000"/>
<ellipse cx="1205.6" cy="413.3" rx="7.8" ry="8.2" fill="#000"/>
<ellipse cx="1225.9" cy="413.3" rx="7.8" ry="8.2" fill="#000"/>
<ellipse cx="1246.1" cy="413.3" rx="7.8" ry="8.2" fill="#000"/>
<rect x="1178.1" y="431.2" width="75.4" height="126.6" fill="#fff" stroke="#4a2c04" stroke-width="2.15"/>
<path d="M1178.1 473.5H1253.5M1178.1 514.8H1253.5" stroke="#4a2c04" stroke-width="2.15" fill="none"/>
<polygon points="1234.3,450.8 1213.0,450.8 1213.0,444.5 1196.9,454.3 1213.0,464.1 1213.0,457.8 1234.3,457.8" fill="#32c332"/>
<polygon points="1188.3,491.3 1226.1,491.3 1226.1,485.1 1242.7,494.6 1226.1,504.1 1226.1,497.9 1188.3,497.9" fill="#4f4f78"/>
<polygon points="1242.7,531.9 1204.9,531.9 1204.9,525.7 1188.3,535.2 1204.9,544.7 1204.9,538.5 1242.7,538.5" fill="#4f4f78"/>
<text transform="translate(1216.00,600.85) scale(1.0,0.969)" text-anchor="middle" style="font-size:34.2px;">AFM</text>
<text transform="translate(1216.00,639.80) scale(1.0,0.969)" text-anchor="middle" style="font-size:34.2px;"><tspan style="font-weight:bold">M</tspan> = -1</text>
<line x1="1325.7" y1="413.3" x2="1413.0" y2="413.3" stroke="#000" stroke-width="4.5"/>
<ellipse cx="1339.3" cy="413.3" rx="7.8" ry="8.2" fill="#000"/>
<ellipse cx="1359.5" cy="413.3" rx="7.8" ry="8.2" fill="#000"/>
<ellipse cx="1379.8" cy="413.3" rx="7.8" ry="8.2" fill="#000"/>
<ellipse cx="1400.0" cy="413.3" rx="7.8" ry="8.2" fill="#000"/>
<rect x="1332.0" y="431.2" width="75.4" height="126.6" fill="#fff" stroke="#4a2c04" stroke-width="2.15"/>
<path d="M1332.0 473.5H1407.4M1332.0 514.8H1407.4" stroke="#4a2c04" stroke-width="2.15" fill="none"/>
<polygon points="1388.2,450.8 1366.9,450.8 1366.9,444.5 1350.8,454.3 1366.9,464.1 1366.9,457.8 1388.2,457.8" fill="#32c332"/>
<polygon points="1396.6,491.3 1358.8,491.3 1358.8,485.1 1342.2,494.6 1358.8,504.1 1358.8,497.9 1396.6,497.9" fill="#4f4f78"/>
<polygon points="1342.2,531.9 1380.0,531.9 1380.0,525.7 1396.6,535.2 1380.0,544.7 1380.0,538.5 1342.2,538.5" fill="#4f4f78"/>
<text transform="translate(1369.90,600.85) scale(1.0,0.969)" text-anchor="middle" style="font-size:34.2px;">Mixed</text>
<text transform="translate(1369.90,639.80) scale(1.0,0.969)" text-anchor="middle" style="font-size:34.2px;"><tspan style="font-weight:bold">M</tspan> = -1</text>
<line x1="1475.8" y1="413.3" x2="1563.1" y2="413.3" stroke="#000" stroke-width="4.5"/>
<ellipse cx="1489.4" cy="413.3" rx="7.8" ry="8.2" fill="#000"/>
<ellipse cx="1509.6" cy="413.3" rx="7.8" ry="8.2" fill="#000"/>
<ellipse cx="1529.9" cy="413.3" rx="7.8" ry="8.2" fill="#000"/>
<ellipse cx="1550.1" cy="413.3" rx="7.8" ry="8.2" fill="#000"/>
<rect x="1482.1" y="431.2" width="75.4" height="126.6" fill="#fff" stroke="#4a2c04" stroke-width="2.15"/>
<path d="M1482.1 473.5H1557.5M1482.1 514.8H1557.5" stroke="#4a2c04" stroke-width="2.15" fill="none"/>
<polygon points="1500.9,450.8 1522.2,450.8 1522.2,444.5 1538.3,454.3 1522.2,464.1 1522.2,457.8 1500.9,457.8" fill="#32c332"/>
<polygon points="1546.7,491.3 1508.9,491.3 1508.9,485.1 1492.3,494.6 1508.9,504.1 1508.9,497.9 1546.7,497.9" fill="#4f4f78"/>
<polygon points="1492.3,531.9 1530.1,531.9 1530.1,525.7 1546.7,535.2 1530.1,544.7 1530.1,538.5 1492.3,538.5" fill="#4f4f78"/>
<text transform="translate(1520.00,600.85) scale(1.0,0.969)" text-anchor="middle" style="font-size:34.2px;">AFM</text>
<text transform="translate(1520.00,639.80) scale(1.0,0.969)" text-anchor="middle" style="font-size:34.2px;"><tspan style="font-weight:bold">M</tspan> = 1</text>
<path d="M1089 168.5V158.8A34.4 34.4 0 0 1 1123.4 124.4H1466" fill="none" stroke="#000" stroke-width="7.6" stroke-linecap="butt"/><path d="M1443.7 107.7L1469.2 124.4L1443.7 141.1" fill="none" stroke="#000" stroke-width="4.2" stroke-linecap="round" stroke-linejoin="round"/>
<path d="M1567 124.4H1621" fill="none" stroke="#000" stroke-width="7.6" stroke-linecap="butt"/><path d="M1598.4 107.7L1623.9 124.4L1598.4 141.1" fill="none" stroke="#000" stroke-width="4.2" stroke-linecap="round" stroke-linejoin="round"/>
<path d="M1721 124.4H1774" fill="none" stroke="#000" stroke-width="7.6" stroke-linecap="butt"/><path d="M1752.0 107.7L1777.5 124.4L1752.0 141.1" fill="none" stroke="#000" stroke-width="4.2" stroke-linecap="round" stroke-linejoin="round"/>
<path d="M1874.3 124.4H1918.5A35 35 0 0 1 1953.5 159.4V166" fill="none" stroke="#000" stroke-width="7.6" stroke-linecap="butt"/><path d="M1970.1 144.0L1953.4 169.5L1936.7 144.0" fill="none" stroke="#000" stroke-width="4.2" stroke-linecap="round" stroke-linejoin="round"/>
<path d="M1953.7 450.3V459.6A35 35 0 0 1 1918.7 494.6H1575" fill="none" stroke="#000" stroke-width="7.6" stroke-linecap="butt"/><path d="M1597.1 511.3L1571.6 494.6L1597.1 477.9" fill="none" stroke="#000" stroke-width="4.2" stroke-linecap="round" stroke-linejoin="round"/>
<path d="M1475.8 494.6H1422" fill="none" stroke="#000" stroke-width="7.6" stroke-linecap="butt"/><path d="M1444.6 511.3L1419.1 494.6L1444.6 477.9" fill="none" stroke="#000" stroke-width="4.2" stroke-linecap="round" stroke-linejoin="round"/>
<path d="M1322.1 494.6H1268" fill="none" stroke="#000" stroke-width="7.6" stroke-linecap="butt"/><path d="M1290.9 511.3L1265.4 494.6L1290.9 477.9" fill="none" stroke="#000" stroke-width="4.2" stroke-linecap="round" stroke-linejoin="round"/>
<path d="M1168 494.6H1123.2A34 34 0 0 1 1089.2 460.6V453" fill="none" stroke="#000" stroke-width="7.6" stroke-linecap="butt"/><path d="M1072.5 475.3L1089.2 449.8L1105.9 475.3" fill="none" stroke="#000" stroke-width="4.2" stroke-linecap="round" stroke-linejoin="round"/>
</g>
</svg>
</body>
</html>
